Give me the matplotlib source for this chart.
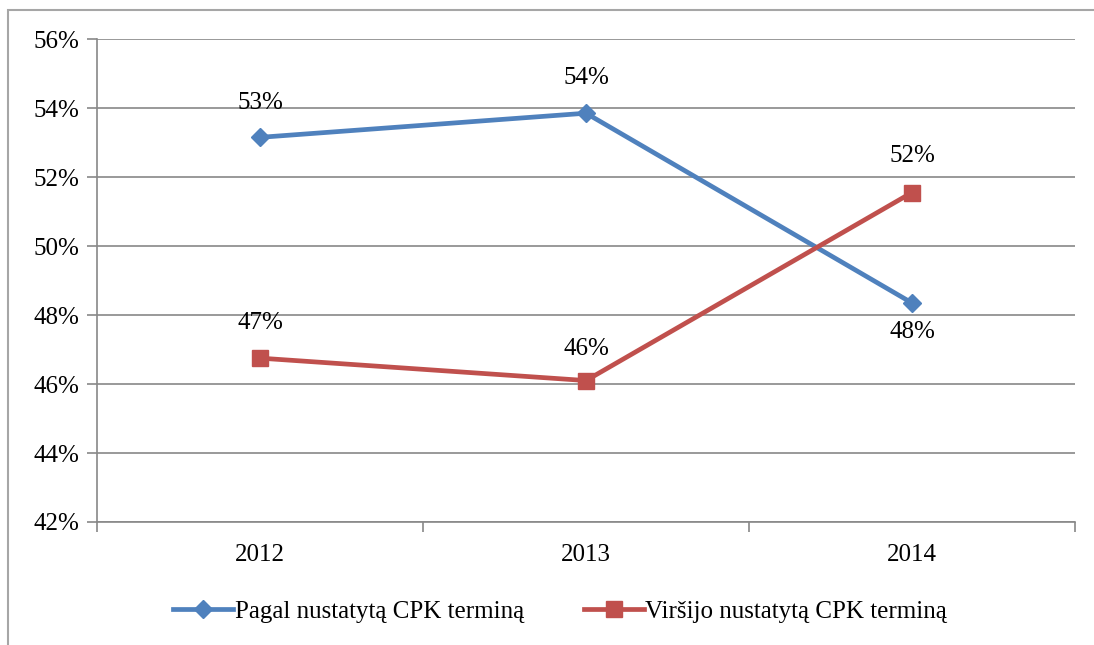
import numpy as np
import matplotlib
matplotlib.use('Agg')
import matplotlib.pyplot as plt
from matplotlib.patches import Rectangle

plt.rcParams['font.family'] = ['Liberation Serif', 'DejaVu Serif']

# 数据
years = ['2012', '2013', '2014']
pagal = [53.15, 53.85, 48.35]      # Pagal nustatytą CPK terminą
virsijo = [46.75, 46.1, 51.55]     # Viršijo nustatytą CPK terminą
pagal_labels = ['53%', '54%', '48%']
virsijo_labels = ['47%', '46%', '52%']
yticks = [42, 44, 46, 48, 50, 52, 54, 56]

fig = plt.figure(figsize=(10.94, 6.45), dpi=100)
ax = fig.add_axes([0.0887, 0.1907, 0.8939, 0.7488])

# 外框（右侧和底部超出画布）
fig.patches.append(Rectangle((8 / 1094, -20 / 645), 1200 / 1094, 655 / 645,
                             transform=fig.transFigure, fill=False,
                             edgecolor='#a6a6a6', lw=1.5))

x = np.arange(len(years))
blue = '#4f81bd'
red = '#c0504d'
ax.plot(x, pagal, color=blue, lw=3.4, marker='D', ms=9, label='Pagal nustatytą CPK terminą', zorder=3)
ax.plot(x, virsijo, color=red, lw=3.4, marker='s', ms=11, label='Viršijo nustatytą CPK terminą', zorder=3)

# 数据标签
fs = 18
offs_p = [25, 25, -21]
for xi, v, t, o in zip(x, pagal, pagal_labels, offs_p):
    ax.annotate(t, (xi, v), xytext=(0, o), textcoords='offset points',
                ha='center', va='center', fontsize=fs)
offs_v = [25, 23, 26]
for xi, v, t, o in zip(x, virsijo, virsijo_labels, offs_v):
    ax.annotate(t, (xi, v), xytext=(0, o), textcoords='offset points',
                ha='center', va='center', fontsize=fs)

ax.set_xlim(-0.5, 2.5)
ax.set_ylim(42, 56)
ax.set_yticks(yticks)
ax.set_yticklabels([f'{v}%' for v in yticks], fontsize=fs)
ax.set_xticks(x)
ax.set_xticklabels(years, fontsize=fs)
ax.set_xticks([-0.5, 0.5, 1.5, 2.5], minor=True)
ax.tick_params(axis='x', which='major', length=0, pad=16)
ax.tick_params(axis='x', which='minor', length=7, color='#888888', width=1.2)
ax.tick_params(axis='y', length=7, color='#888888', width=1.2, pad=6)
ax.grid(axis='y', color='#888888', lw=1.2)
ax.set_axisbelow(True)
for s in ['top', 'right']:
    ax.spines[s].set_visible(False)
for s in ['left', 'bottom']:
    ax.spines[s].set_color('#888888')
    ax.spines[s].set_linewidth(1.2)

fig.legend(loc='center', bbox_to_anchor=(0.512, 0.052), ncol=2, frameon=False,
           fontsize=18, handlelength=2.4, handletextpad=0.05, columnspacing=2.4)

plt.savefig('out.png', dpi=100)
plt.close()
